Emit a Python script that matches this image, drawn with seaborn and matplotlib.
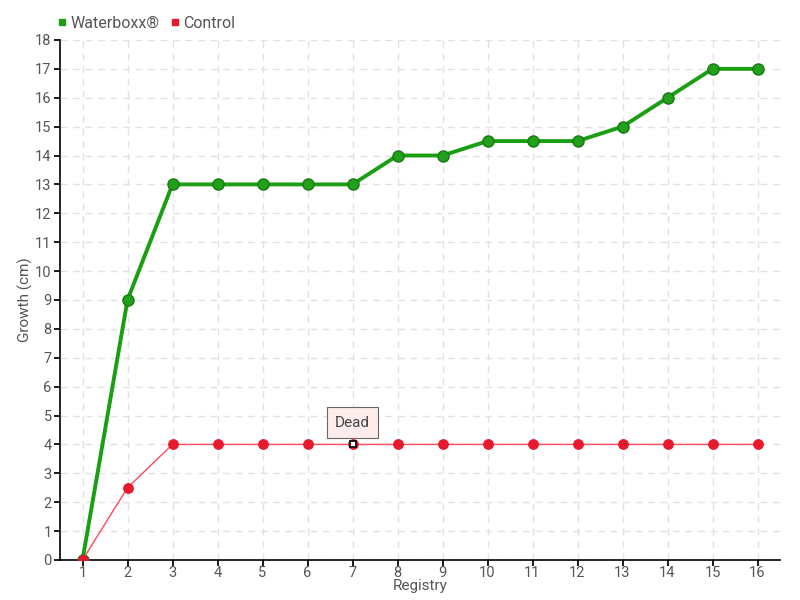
import matplotlib
matplotlib.use("Agg")
import matplotlib.pyplot as plt
import seaborn as sns
import pandas as pd
from matplotlib.lines import Line2D

registry = list(range(1, 17))
waterboxx = [0, 9, 13, 13, 13, 13, 13, 14, 14, 14.5, 14.5, 14.5, 15, 16, 17, 17]
control = [0, 2.5, 4, 4, 4, 4, 4, 4, 4, 4, 4, 4, 4, 4, 4, 4]
series_names = ["Waterboxx®", "Control"]
dead_index = 6

sns.set_theme(style="white")
plt.rcParams['font.family'] = ['Roboto', 'DejaVu Sans']

df = pd.DataFrame({
    "Registry": registry * 2,
    "Growth": waterboxx + control,
    "Series": [series_names[0]] * 16 + [series_names[1]] * 16,
})

fig = plt.figure(figsize=(8, 6), dpi=100)
ax = fig.add_axes([0.075, 0.0667, 0.9, 0.8667])

green = "#1a9e12"
red = "#e8192c"

wb = df[df.Series == series_names[0]]
ct = df[df.Series == series_names[1]]
sns.lineplot(data=wb, x="Registry", y="Growth", ax=ax, color=green, linewidth=2.8,
             marker="o", markersize=8, markerfacecolor="#22a01a", markeredgecolor="#157a10",
             markeredgewidth=1, legend=False, zorder=3)
sns.lineplot(data=ct, x="Registry", y="Growth", ax=ax, color="#ff4a5a", linewidth=1,
             marker="o", markersize=7, markerfacecolor=red, markeredgecolor=red,
             legend=False, zorder=4)

# Dead marker
ax.plot(registry[dead_index], control[dead_index], marker="s", markersize=5,
        markerfacecolor="white", markeredgecolor="black", markeredgewidth=1.2, zorder=6)
ax.annotate("Dead", xy=(registry[dead_index], control[dead_index]),
            xytext=(0, 15.5), textcoords="offset points", ha="center", va="center",
            fontsize=11, color="#444444",
            bbox=dict(boxstyle="square,pad=0.55", fc="#fdecec", ec="#666666", lw=0.8),
            zorder=7)

ax.set_xlim(0.5, 16.5)
ax.set_ylim(0, 18)
ax.set_xticks(registry)
ax.set_yticks(range(0, 19))
ax.tick_params(axis="both", colors="#555555", labelsize=10.5, length=4, direction="out",
               left=True, bottom=True)
ax.tick_params(axis="x", pad=0)
ax.tick_params(axis="y", pad=2)
ax.tick_params(axis="both", color="black")
ax.grid(True, color="#e2e2e2", linestyle=(0, (5, 4)), linewidth=1)
for s in ["top", "right"]:
    ax.spines[s].set_visible(False)
for s in ["left", "bottom"]:
    ax.spines[s].set_color("black")
    ax.spines[s].set_linewidth(1.2)

ax.set_xlabel("Registry", color="#555555", fontsize=11)
ax.xaxis.set_label_coords(0.5, -0.037)
ax.set_ylabel("Growth (cm)", color="#555555", fontsize=11)
ax.yaxis.set_label_coords(-0.037, 0.5)

handles = [Line2D([], [], linestyle="none", marker="s", markersize=5, color=green),
           Line2D([], [], linestyle="none", marker="s", markersize=5, color=red)]
fig.legend(handles, series_names, loc="upper left", bbox_to_anchor=(0.052, 0.998),
           ncol=2, frameon=False, fontsize=11.5, handletextpad=0.1, columnspacing=0.6,
           labelcolor="#555555", handlelength=0.8)

fig.savefig("out.png", dpi=100)
